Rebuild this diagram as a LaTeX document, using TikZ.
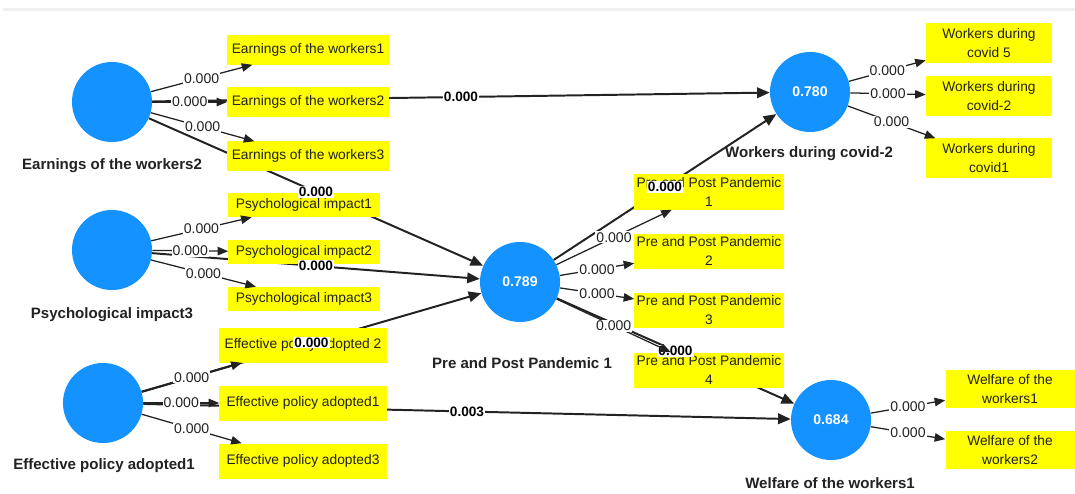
\documentclass[tikz,border=0pt]{standalone}
\usepackage{fontspec}
\setmainfont{Liberation Sans}
\usetikzlibrary{arrows.meta,positioning,backgrounds}
\definecolor{plsblue}{RGB}{20,146,255}
\definecolor{indyellow}{RGB}{255,255,0}
\definecolor{inkgray}{RGB}{34,34,34}

\begin{document}
\begin{tikzpicture}[x=0.025cm,y=-0.025cm,
  lv/.style={circle, fill=plsblue, minimum size=2cm, inner sep=0pt, text=white,
             font=\fontsize{10}{12}\selectfont\bfseries},
  ind/.style={fill=indyellow, inner sep=1pt, align=center, text=inkgray,
              font=\fontsize{9.8}{13}\selectfont},
  lvname/.style={text=inkgray, font=\fontsize{10.7}{13}\selectfont\bfseries},
  load/.style={-{Triangle[length=7.5pt,width=6pt]}, line width=0.9pt, draw=inkgray},
  struct/.style={-{Triangle[length=9pt,width=7.5pt]}, line width=1.4pt, draw=inkgray},
  lab/.style={fill=white, inner sep=0.8pt, text=inkgray, font=\fontsize{10}{12}\selectfont},
  blab/.style={fill=white, inner sep=0.8pt, text=black, font=\fontsize{9.7}{12}\selectfont\bfseries}
]
% latent variables
\node[lv] (earn) at (112,102) {};
\node[lv] (psy)  at (112,250) {};
\node[lv] (eff)  at (103,403) {};
\node[lv] (pp)   at (520,282) {0.789};
\node[lv] (wc)   at (810,92)  {0.780};
\node[lv] (wf)   at (831,420) {0.684};

\node[lvname] at (112,166) {Earnings of the workers2};
\node[lvname] at (112,315) {Psychological impact3};
\node[lvname] at (104,466) {Effective policy adopted1};
\node[lvname] at (522,363) {Pre and Post Pandemic 1};
\node[lvname] at (809,154) {Workers during covid-2};
\node[lvname] at (830,483) {Welfare of the workers1};

% indicators
\begin{scope}[every node/.append style={ind, minimum width=4.025cm, minimum height=0.725cm}]
\node (e1) at (308,50)  {Earnings of the workers1};
\node (e2) at (308,102) {Earnings of the workers2};
\node (e3) at (308,156) {Earnings of the workers3};
\end{scope}
\begin{scope}[every node/.append style={ind, minimum width=3.775cm, minimum height=0.6cm}]
\node (p1) at (304,205) {Psychological impact1};
\node (p2) at (304,252) {Psychological impact2};
\node (p3) at (304,299) {Psychological impact3};
\end{scope}
\begin{scope}[every node/.append style={ind, minimum width=4.175cm, minimum height=0.875cm}]
\node (f2) at (303,345) {Effective policy adopted 2};
\node (f1) at (303,403) {Effective policy adopted1};
\node (f3) at (303,461) {Effective policy adopted3};
\end{scope}
\begin{scope}[every node/.append style={ind, minimum width=3.725cm, minimum height=0.875cm,
              font=\fontsize{9.8}{14}\selectfont}]
\node (q1) at (709,192) {Pre and Post Pandemic\\1};
\node (q2) at (709,251) {Pre and Post Pandemic\\2};
\node (q3) at (709,310) {Pre and Post Pandemic\\3};
\node (q4) at (709,370) {Pre and Post Pandemic\\4};
\end{scope}
\begin{scope}[every node/.append style={ind, minimum width=3.15cm, minimum height=0.975cm}]
\node (w5) at (989,43)  {Workers during\\covid 5};
\node (w2) at (989,96)  {Workers during\\covid-2};
\node (w1) at (989,158) {Workers during\\covid1};
\end{scope}
\begin{scope}[every node/.append style={ind, minimum width=3.225cm, minimum height=0.95cm}]
\node (h1) at (1010,389) {Welfare of the\\workers1};
\node (h2) at (1010,450) {Welfare of the\\workers2};
\end{scope}

% inner model behind the boxes
\begin{scope}[on background layer]
\fill[white] (0,0) rectangle (1075,493);
\fill[black!6] (3,8) rectangle (1075,11);
\draw[struct] (earn) -- (wc);
\draw[struct] (earn) -- (pp);
\draw[struct] (psy) -- (pp);
\draw[struct] (eff) -- (pp);
\draw[struct] (eff) -- (wf);
\draw[struct] (pp) -- (wc);
\draw[struct] (pp) -- (wf);
\end{scope}
\path (earn) -- node[blab]{0.000} (wc);
\path (earn) -- node[blab]{0.000} (pp);
\path (psy) -- node[blab]{0.000} (pp);
\path (eff) -- node[blab]{0.000} (pp);
\path (eff) -- node[blab]{0.003} (wf);
\path (pp) -- node[blab]{0.000} (wc);
\path (pp) -- node[blab]{0.000} (wf);

% outer loadings
\foreach \lvar/\ivar in {earn/e1, earn/e2, earn/e3, psy/p1, psy/p2, psy/p3,
                         eff/f1, eff/f3, pp/q1, pp/q2, pp/q3, pp/q4,
                         wc/w5, wc/w2, wc/w1, wf/h1, wf/h2}
  \draw[load] (\lvar) -- node[lab]{0.000} (\ivar);
\draw[load, line width=1.4pt] (eff) -- node[lab]{0.000} (f2);
\end{tikzpicture}
\end{document}
